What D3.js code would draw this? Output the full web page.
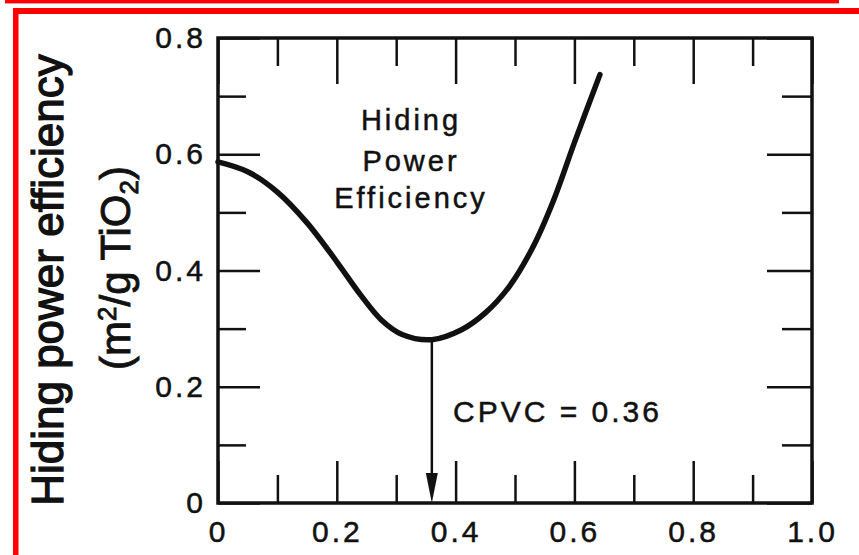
<!DOCTYPE html>
<meta charset="utf-8">
<head>
    <title>Hiding Power Efficiency</title>
    <script type="text/javascript" src="https://cdn.jsdelivr.net/npm/d3@7"></script>
    <style>
        html, body {
            margin: 0;
            padding: 0;
            background: white;
        }
        svg text {
            font-family: "Liberation Sans", Arial, Helvetica, sans-serif;
            fill: #111;
            stroke: #111;
            stroke-width: 0.5px;
        }
        .tick text {
            font-size: 30px;
            letter-spacing: 3px;
        }
    </style>
</head>

<body>
    <div id="chart"></div>

    <script>
        // curve: pigment volume concentration vs hiding power efficiency
        var pvc = [0, 0.05, 0.10, 0.15, 0.20, 0.24, 0.275, 0.31, 0.36, 0.41, 0.45, 0.49, 0.53, 0.565, 0.60, 0.643];
        var efficiency = [0.587, 0.570, 0.535, 0.482, 0.415, 0.358, 0.315, 0.290, 0.281, 0.298, 0.327, 0.372, 0.440, 0.521, 0.620, 0.737];

        // tick values / labels
        var xMajor = [0, 0.2, 0.4, 0.6, 0.8, 1.0];
        var xMinor = [0.1, 0.3, 0.5, 0.7, 0.9];
        var xLabels = ["0", "0.2", "0.4", "0.6", "0.8", "1.0"];
        var yMajor = [0, 0.2, 0.4, 0.6, 0.8];
        var yMinor = [0.1, 0.3, 0.5, 0.7];
        var yLabels = ["0", "0.2", "0.4", "0.6", "0.8"];

        var cpvc = 0.36;
        var cpvcLabel = "CPVC = 0.36";
        var curveLabel = ["Hiding", "Power", "Efficiency"];

        var width = 859, height = 555;
        // plot frame (window.top is reserved, so prefix these)
        var pLeft = 218, pRight = 812, pTop = 38, pBottom = 503;
        var majorLen = 42, minorLen = 28;

        var svg = d3.select("#chart").append("svg")
            .attr("width", width)
            .attr("height", height);

        // red scan borders
        svg.append("rect").attr("x", 5).attr("y", 0).attr("width", 834).attr("height", 3.4).attr("fill", "#ff0000");
        svg.append("rect").attr("x", 13).attr("y", 8).attr("width", 846).attr("height", 6).attr("fill", "#ff0000");
        svg.append("rect").attr("x", 13).attr("y", 8).attr("width", 5.5).attr("height", 547).attr("fill", "#ff0000");

        var x = d3.scaleLinear().domain([0, 1]).range([pLeft, pRight]);
        var y = d3.scaleLinear().domain([0, 0.8]).range([pBottom, pTop]);

        function styleAxis(g) {
            g.select(".domain").remove();
            g.selectAll(".tick line").attr("stroke", "#111").attr("stroke-width", 2.5);
        }

        // bottom
        svg.append("g").attr("transform", "translate(0," + pBottom + ")")
            .call(d3.axisBottom(x).tickValues(xMajor).tickSize(-majorLen).tickPadding(18)
                .tickFormat(function(d, i) { return xLabels[i]; }))
            .call(styleAxis);
        svg.append("g").attr("transform", "translate(0," + pBottom + ")")
            .call(d3.axisBottom(x).tickValues(xMinor).tickSize(-minorLen).tickFormat(""))
            .call(styleAxis);
        // top
        svg.append("g").attr("transform", "translate(0," + pTop + ")")
            .call(d3.axisTop(x).tickValues(xMajor).tickSize(-majorLen - 4).tickFormat(""))
            .call(styleAxis);
        svg.append("g").attr("transform", "translate(0," + pTop + ")")
            .call(d3.axisTop(x).tickValues(xMinor).tickSize(-minorLen).tickFormat(""))
            .call(styleAxis);
        // left
        svg.append("g").attr("transform", "translate(" + pLeft + ",0)")
            .call(d3.axisLeft(y).tickValues(yMajor).tickSize(-majorLen).tickPadding(12)
                .tickFormat(function(d, i) { return yLabels[i]; }))
            .call(styleAxis);
        svg.append("g").attr("transform", "translate(" + pLeft + ",0)")
            .call(d3.axisLeft(y).tickValues(yMinor).tickSize(-minorLen).tickFormat(""))
            .call(styleAxis);
        // right
        svg.append("g").attr("transform", "translate(" + pRight + ",0)")
            .call(d3.axisRight(y).tickValues(yMajor).tickSize(-majorLen - 3).tickFormat(""))
            .call(styleAxis);
        svg.append("g").attr("transform", "translate(" + pRight + ",0)")
            .call(d3.axisRight(y).tickValues(yMinor).tickSize(-minorLen - 2).tickFormat(""))
            .call(styleAxis);

        // frame
        svg.append("rect")
            .attr("x", pLeft).attr("y", pTop)
            .attr("width", pRight - pLeft).attr("height", pBottom - pTop)
            .attr("fill", "none").attr("stroke", "#111").attr("stroke-width", 3.5);

        // curve
        var line = d3.line()
            .x(function(d) { return x(d[0]); })
            .y(function(d) { return y(d[1]); })
            .curve(d3.curveCatmullRom.alpha(0.5));

        svg.append("path")
            .datum(d3.zip(pvc, efficiency))
            .attr("d", line)
            .attr("fill", "none")
            .attr("stroke", "#111")
            .attr("stroke-width", 5.5)
            .attr("stroke-linecap", "round");

        // arrow down to CPVC
        var minY = y(d3.min(efficiency));
        svg.append("line")
            .attr("x1", x(cpvc)).attr("x2", x(cpvc))
            .attr("y1", minY).attr("y2", pBottom - 10)
            .attr("stroke", "#111").attr("stroke-width", 2.5);
        svg.append("path")
            .attr("d", d3.line()([[x(cpvc) - 6, pBottom - 30], [x(cpvc) + 6, pBottom - 30], [x(cpvc), pBottom]]))
            .attr("fill", "#111");

        svg.append("text")
            .attr("x", 453).attr("y", 422)
            .style("font-size", "30px")
            .style("letter-spacing", "3px")
            .text(cpvcLabel);

        svg.append("text")
            .attr("text-anchor", "middle")
            .style("font-size", "29px")
            .style("letter-spacing", "3px")
            .selectAll("tspan")
            .data(curveLabel)
            .enter()
            .append("tspan")
            .attr("x", 411)
            .attr("y", function(d, i) { return [130, 171, 208][i]; })
            .text(function(d) { return d; });

        // y axis title, two rotated lines
        svg.append("text")
            .attr("transform", "translate(63,280) rotate(-90)")
            .attr("text-anchor", "middle")
            .style("font-size", "44px")
            .style("stroke-width", "1.3px")
            .text("Hiding power efficiency");

        var t2 = svg.append("text")
            .attr("transform", "translate(130,268) rotate(-90)")
            .attr("text-anchor", "middle")
            .style("font-size", "42px")
            .style("stroke-width", "0.9px");
        t2.append("tspan").text("(m");
        t2.append("tspan").attr("dy", "-14").style("font-size", "26px").text("2");
        t2.append("tspan").attr("dy", "14").text("/g TiO");
        t2.append("tspan").attr("dy", "8").style("font-size", "26px").text("2");
        t2.append("tspan").attr("dy", "-8").text(")");
    </script>
</body>
</html>
